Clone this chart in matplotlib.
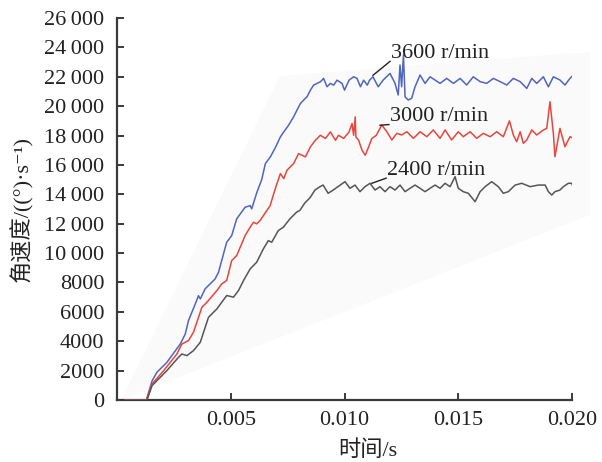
import matplotlib
matplotlib.use("Agg")
import matplotlib.pyplot as plt
from matplotlib.ticker import FuncFormatter, MultipleLocator

plt.rcParams['font.family'] = ['Liberation Serif', 'Noto Sans CJK SC', 'DejaVu Sans']

# 3600 r/min
t_3600 = [0.00035, 0.00129, 0.00154, 0.00175, 0.00219, 0.00278, 0.00300, 0.00314, 0.00344, 0.00358,
          0.00366, 0.00387, 0.00431, 0.00446, 0.00482, 0.00504, 0.00526, 0.00563, 0.00585, 0.00592,
          0.00614, 0.00636, 0.00652, 0.00674, 0.00696, 0.00718, 0.00733, 0.00754, 0.00776, 0.00791,
          0.00806, 0.00820, 0.00835, 0.00850, 0.00864, 0.00879, 0.00894, 0.00908, 0.00923, 0.00938,
          0.00952, 0.00967, 0.00989, 0.01000, 0.01020, 0.01040, 0.01055, 0.01070, 0.01084, 0.01100,
          0.01110, 0.01125, 0.01148, 0.01170, 0.01200, 0.01222, 0.01236, 0.01244, 0.01251, 0.01259,
          0.01266, 0.01280, 0.01295, 0.01310, 0.01332, 0.01354, 0.01376, 0.01420, 0.01449, 0.01479,
          0.01508, 0.01537, 0.01566, 0.01596, 0.01625, 0.01654, 0.01684, 0.01713, 0.01742, 0.01772,
          0.01801, 0.01823, 0.01845, 0.01874, 0.01896, 0.01918, 0.01947, 0.01969, 0.01991, 0.02006]
v_3600 = [0, 0, 1300, 1880, 2560, 3810, 4490, 5400, 6540, 7100,
          6880, 7560, 8240, 8690, 10740, 11190, 12330, 13120, 13230, 13010,
          14100, 15000, 16090, 16550, 17180, 17910, 18250, 18700, 19270, 19730,
          20180, 20410, 20640, 21090, 21430, 21550, 21660, 21890, 21320, 21550,
          21430, 21770, 21550, 21090, 21770, 22000, 21890, 21320, 21770, 21430,
          21770, 22000, 21320, 21780, 22230, 21550, 20760, 22800, 21320, 23480,
          20640, 20420, 20530, 21320, 22120, 21550, 22000, 21550, 21890, 21550,
          21890, 21440, 22000, 21670, 21550, 21890, 21670, 21440, 21890, 21670,
          21210, 21890, 21550, 22000, 21320, 22000, 21780, 21440, 21890, 22120]

# 3000 r/min
t_3000 = [0.00035, 0.00129, 0.00154, 0.00205, 0.00263, 0.00285, 0.00314, 0.00336, 0.00373, 0.00395,
          0.00439, 0.00460, 0.00482, 0.00504, 0.00526, 0.00563, 0.00585, 0.00600, 0.00614, 0.00629,
          0.00673, 0.00689, 0.00703, 0.00718, 0.00733, 0.00747, 0.00776, 0.00798, 0.00828, 0.00850,
          0.00872, 0.00894, 0.00916, 0.00938, 0.00960, 0.00974, 0.00996, 0.01020, 0.01033, 0.01040,
          0.01047, 0.01050, 0.01062, 0.01077, 0.01091, 0.01106, 0.01120, 0.01140, 0.01148, 0.01164,
          0.01186, 0.01208, 0.01230, 0.01252, 0.01274, 0.01303, 0.01332, 0.01362, 0.01390, 0.01420,
          0.01442, 0.01471, 0.01500, 0.01522, 0.01552, 0.01581, 0.01610, 0.01640, 0.01669, 0.01698,
          0.01725, 0.01742, 0.01757, 0.01772, 0.01786, 0.01801, 0.01823, 0.01845, 0.01874, 0.01889,
          0.01903, 0.01918, 0.01925, 0.01947, 0.01969, 0.01991, 0.02006]
v_3000 = [0, 0, 1090, 2000, 3130, 3810, 4040, 4610, 6310, 6650,
          7450, 7900, 8130, 9490, 9830, 11190, 11760, 12100, 11990, 12220,
          13230, 14050, 14730, 15410, 15070, 15640, 16090, 16770, 16550, 17230,
          17680, 18020, 17800, 18250, 17680, 18020, 17800, 18250, 18820, 18020,
          19270, 17910, 17680, 17000, 16660, 17230, 17800, 18020, 18260, 18720,
          18260, 17700, 18150, 18040, 18260, 17810, 18260, 17920, 18380, 17810,
          18380, 17700, 18260, 17920, 18260, 17810, 18150, 17920, 18260, 17920,
          19000, 18040, 17580, 18260, 17470, 17700, 18380, 18040, 18380, 18490,
          20300, 18150, 16560, 18490, 17240, 17920, 17810]

# 2400 r/min
t_2400 = [0.00035, 0.00132, 0.00154, 0.00219, 0.00270, 0.00285, 0.00307, 0.00336, 0.00366, 0.00402,
          0.00439, 0.00482, 0.00512, 0.00534, 0.00556, 0.00585, 0.00614, 0.00643, 0.00665, 0.00680,
          0.00709, 0.00731, 0.00760, 0.00789, 0.00804, 0.00826, 0.00848, 0.00870, 0.00892, 0.00906,
          0.00928, 0.00950, 0.00971, 0.01002, 0.01024, 0.01046, 0.01068, 0.01090, 0.01112, 0.01134,
          0.01156, 0.01178, 0.01200, 0.01222, 0.01244, 0.01266, 0.01288, 0.01310, 0.01332, 0.01354,
          0.01376, 0.01398, 0.01420, 0.01442, 0.01464, 0.01486, 0.01500, 0.01522, 0.01544, 0.01574,
          0.01596, 0.01618, 0.01647, 0.01676, 0.01698, 0.01720, 0.01750, 0.01779, 0.01816, 0.01852,
          0.01882, 0.01896, 0.01911, 0.01925, 0.01947, 0.01962, 0.01984, 0.01999, 0.02006]
v_2400 = [0, 0, 980, 2000, 2900, 3130, 3020, 3360, 3930, 5630,
          6200, 7110, 7000, 7450, 8130, 8920, 9380, 10280, 10850, 10740,
          11530, 11760, 12330, 12780, 12910, 13420, 13760, 14290, 14520, 14630,
          14070, 14290, 14520, 14860, 14410, 14630, 14180, 14520, 14750, 14290,
          14520, 14180, 14520, 14290, 14630, 14180, 14410, 14630, 14410, 14180,
          14410, 14630, 14410, 14750, 14520, 15200, 14410, 14180, 14070, 13500,
          14180, 14520, 14860, 14520, 14070, 14180, 14630, 14750, 14520, 14630,
          14630, 14180, 13950, 14180, 14290, 14520, 14750, 14750, 14410]

series = [
    (t_3600, v_3600, "#5065bd", "3600 r/min"),
    (t_3000, v_3000, "#e8453c", "3000 r/min"),
    (t_2400, v_2400, "#555555", "2400 r/min"),
]

# label anchor (point on curve) and text position
label_pts = [(0.01125, 22100), (0.01156, 18700), (0.01120, 14750)]
label_txt = [(0.01205, 23600), (0.01200, 19300), (0.01188, 15650)]


def fmt_thousands(v, pos):
    v = int(round(v))
    if v >= 10000:
        return f"{v // 1000}\u2009{v % 1000:03d}"
    return str(v)


fig = plt.figure(figsize=(6.02, 4.62), dpi=100)
ax = fig.add_axes([0.1944, 0.1342, 0.7558, 0.8268])

# faint leftover pane from the original 3D view
pane = plt.Polygon([(0.00018, 0), (0.00716, 22050), (0.02079, 23700), (0.02079, 12600)],
                   closed=True, facecolor="#fafafa", edgecolor="none", zorder=0, clip_on=False)
ax.add_patch(pane)

for t, v, c, name in series:
    ax.plot(t, v, color=c, lw=1.1, zorder=3)

for (px, py), (tx, ty), (_, _, _, name) in zip(label_pts, label_txt, series):
    ax.plot([px, tx - 0.00005], [py, ty - 550], color="#222222", lw=1.0, zorder=4)
    ax.text(tx, ty, name, ha="left", va="center", fontsize=16, color="#222222",
            family="Liberation Serif", zorder=5)

ax.set_xlim(0, 0.020)
ax.set_ylim(0, 26000)
ax.xaxis.set_major_locator(MultipleLocator(0.005))
ax.yaxis.set_major_locator(MultipleLocator(2000))
ax.xaxis.set_major_formatter(FuncFormatter(lambda x, p: "" if x < 1e-9 else f"{x:.3f}"))
ax.yaxis.set_major_formatter(FuncFormatter(fmt_thousands))

for s in ["top", "right"]:
    ax.spines[s].set_visible(False)
for s in ["left", "bottom"]:
    ax.spines[s].set_color("#3a3a3a")
    ax.spines[s].set_linewidth(1.6)
ax.tick_params(direction="in", length=5, width=1.4, color="#3a3a3a",
               labelsize=16, labelcolor="#222222")
ax.tick_params(axis="y", pad=9)
ax.tick_params(axis="x", pad=8)
ax.set_facecolor("none")

ax.set_xlabel("时间/s", fontsize=16, color="#222222")
ax.xaxis.set_label_coords(0.552, -0.105)
ax.set_ylabel("角速度/((°)·s⁻¹)", fontsize=16, color="#222222")
ax.yaxis.set_label_coords(-0.185, 0.5)

fig.savefig("out.png", dpi=100)
